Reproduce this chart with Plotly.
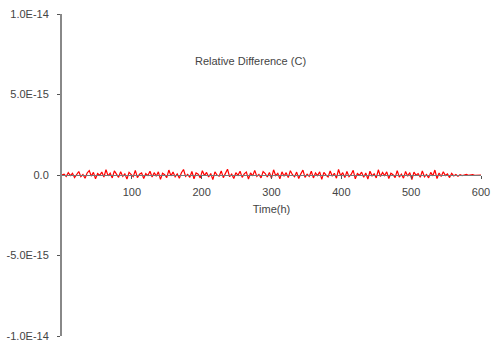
import numpy as np
import plotly.graph_objects as go

# Relative difference values (units of 1.8e-17)
diff_units = [0, 3, -5, 8, -2, 6, -9, 4, 12, -6, 2, -11, 7, 15, -4, 9, -13, 5, -1, 10,
              -7, 18, -3, 6, -10, 14, 1, -8, 11, -5, 4, -14, 9, 2, -6, 16, -9, 3, 7, -12,
              5, -2, 13, -7, 8, -4, 11, -15, 6, 1, -9, 17, -3, 10, -6, 4, -11, 8, 19, -5,
              2, -8, 12, -13, 7, 3, -10, 15, -2, 9, -7, 5, -16, 11, 0, -4, 14, -9, 6, 20,
              -6, 3, -12, 8, -1, 13, -8, 4, 10, -14, 7, -3, 16, -5, 2, -10, 12, 5, -7, 9,
              -11, 18, -2, 6, -13, 11, -4, 8, -9, 15, 1, -6, 10, -12, 4, 17, -8, 3, -5, 13,
              -10, 7, -2, 11, -15, 9, 0, -7, 14, -4, 6, -11, 19, -3, 8, -9, 12, -6, 2, 16,
              -13, 5, -1, 10, -8, 7, -14, 13, -3, 4, -10, 18, -5, 9, -2, 11, -12, 6, 1, -9,
              15, -7, 3, -11, 12, -4, 8, -16, 10, -1, 5, -8, 14, -6, 2, -10, 9, -3, 17, -12,
              7, -5, 11, -2, 4, -9, 6, -3, 2, -4, 1, -2, 0, 2, -1, 0, 1, -1, 0, 1, 0]
unit = 1.8e-17
time_h = np.linspace(0, 600, len(diff_units))
values = [v * unit for v in diff_units]

y_tickvals = [1e-14, 5e-15, 0, -5e-15, -1e-14]
y_ticktext = ["1.0E-14", "5.0E-15", "0.0", "-5.0E-15", "-1.0E-14"]
x_tickvals = [100, 200, 300, 400, 500, 600]

font = dict(family="Liberation Sans, Arial, sans-serif", size=11, color="#444444")

fig = go.Figure()
fig.add_trace(go.Scatter(x=time_h, y=values, mode="lines",
                         line=dict(color="#ff0000", width=1.2), showlegend=False))

fig.update_layout(
    width=491, height=344,
    margin=dict(l=62, r=10, t=14, b=8),
    paper_bgcolor="white", plot_bgcolor="white",
    font=font,
    xaxis=dict(range=[0, 600], tickvals=x_tickvals, showgrid=False, zeroline=False,
               showline=True, linecolor="#777777", linewidth=1,
               ticks="outside", ticklen=3, tickcolor="#555555",
               ticklabelstandoff=4,
               anchor="free", position=0.5, automargin=False,
               title=dict(text="Time(h)", font=font, standoff=8)),
    yaxis=dict(range=[-1e-14, 1e-14], tickvals=y_tickvals, ticktext=y_ticktext,
               showgrid=False, zeroline=False, showline=True, linecolor="#888888",
               linewidth=2, ticks="outside", ticklen=3, tickcolor="#555555",
               ticklabelstandoff=6, automargin=False),
    annotations=[dict(text="Relative Difference (C)", x=270, y=7.1e-15, xref="x", yref="y",
                      showarrow=False, font=font)],
)

fig.write_html("out.html")
